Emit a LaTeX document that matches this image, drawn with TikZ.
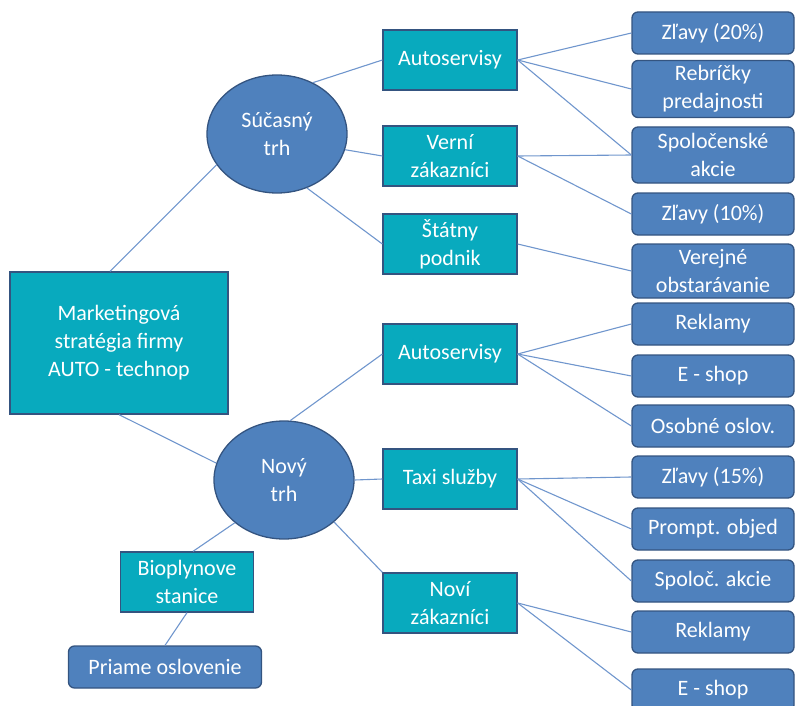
\documentclass[tikz,border=0pt]{standalone}
\usepackage{fontspec}
\setmainfont{Carlito}
\usepackage{tikz}
\usetikzlibrary{shapes.geometric}
\definecolor{tealfill}{RGB}{8,170,190}
\definecolor{bluefill}{RGB}{79,129,189}
\definecolor{edgeblue}{RGB}{52,84,128}
\definecolor{linkblue}{RGB}{112,150,205}
\tikzstyle{root} = [draw=edgeblue, fill=tealfill, rectangle, line width=1.3pt, minimum width=218pt, minimum height=142pt, text=white, align=center]
\tikzstyle{market} = [draw=edgeblue, fill=bluefill, ellipse, line width=1.3pt, minimum width=140pt, minimum height=118pt, text=white, align=center]
\tikzstyle{segment} = [draw=edgeblue, fill=tealfill, rectangle, line width=1.3pt, minimum width=134pt, minimum height=60pt, text=white, align=center]
\tikzstyle{action} = [draw=edgeblue, fill=bluefill, rectangle, rounded corners=6pt, line width=1.3pt, minimum width=162pt, minimum height=42pt, inner sep=2pt, text=white, align=center]
\tikzstyle{link} = [draw=linkblue, line width=1.1pt]

\begin{document}
\begin{tikzpicture}[x=1pt, y=-1pt, font=\fontsize{22}{28}\selectfont]
            \clip (0,0) rectangle (795,706);
            \node [root] (strat) at (119,343) {Marketingová\\stratégia firmy\\AUTO - technop};
            \node [market] (cur) at (277,134) {Súčasný\\trh};
            \node [market] (new) at (284,480) {Nový\\trh};

            \node [segment] (auto1) at (450,60) {Autoservisy};
            \node [segment] (verni) at (450,156) {Verní\\zákazníci};
            \node [segment] (statny) at (450,244) {Štátny\\podnik};
            \node [segment] (auto2) at (450,354) {Autoservisy};
            \node [segment] (taxi) at (450,479) {Taxi služby};
            \node [segment] (novi) at (450,603) {Noví\\zákazníci};
            \node [segment, minimum width=133pt] (bio) at (187,582) {Bioplynove\\stanice};
            \node [action, minimum width=193pt] (priame) at (165,667) {Priame oslovenie};

            \node [action] (zl20) at (713,33) {Zľavy (20\%)};
            \node [action, minimum height=57pt] (rebr) at (713,89) {Rebríčky\\predajnosti};
            \node [action, minimum height=56pt] (spol) at (713,155) {Spoločenské\\akcie};
            \node [action] (zl10) at (713,214) {Zľavy (10\%)};
            \node [action, minimum height=54pt] (verej) at (713,271) {Verejné\\obstarávanie};
            \node [action] (rekl1) at (713,324) {Reklamy};
            \node [action] (shop1) at (713,376) {E - shop};
            \node [action] (osob) at (713,426) {Osobné oslov.};
            \node [action] (zl15) at (713,477) {Zľavy (15\%)};
            \node [action] (prompt) at (713,529) {Prompt. objed};
            \node [action] (spol2) at (713,581) {Spoloč. akcie};
            \node [action] (rekl2) at (713,632) {Reklamy};
            \node [action] (shop2) at (713,690) {E - shop};

            % strategy -> markets
            \draw [link] ([xshift=-9pt]strat.north) -- (cur.207);
            \draw [link] (strat.south) -- (new.166);

            % current market
            \draw [link] (cur.55) -- (auto1.west);
            \draw [link] (cur.-13) -- (verni.west);
            \draw [link] (cur.-61) -- (statny.west);
            \draw [link] (auto1.east) -- (zl20.west);
            \draw [link] (auto1.east) -- (rebr.west);
            \draw [link] (auto1.east) -- (spol.west);
            \draw [link] (verni.east) -- (spol.west);
            \draw [link] (verni.east) -- (zl10.west);
            \draw [link] (statny.east) -- (verej.west);

            % new market
            \draw [link] (new.84) -- (auto2.west);
            \draw [link] (new.0) -- (taxi.west);
            \draw [link] (new.-40) -- (novi.north west);
            \draw [link] (new.221) -- ([xshift=6pt]bio.north);
            \draw [link] (bio.south) -- (priame.north);
            \draw [link] (auto2.east) -- (rekl1.west);
            \draw [link] (auto2.east) -- (shop1.west);
            \draw [link] (auto2.east) -- (osob.west);
            \draw [link] (taxi.east) -- (zl15.west);
            \draw [link] (taxi.east) -- (prompt.west);
            \draw [link] (taxi.east) -- (spol2.west);
            \draw [link] (novi.east) -- (rekl2.west);
            \draw [link] (novi.east) -- (shop2.west);
        \end{tikzpicture}
\end{document}
